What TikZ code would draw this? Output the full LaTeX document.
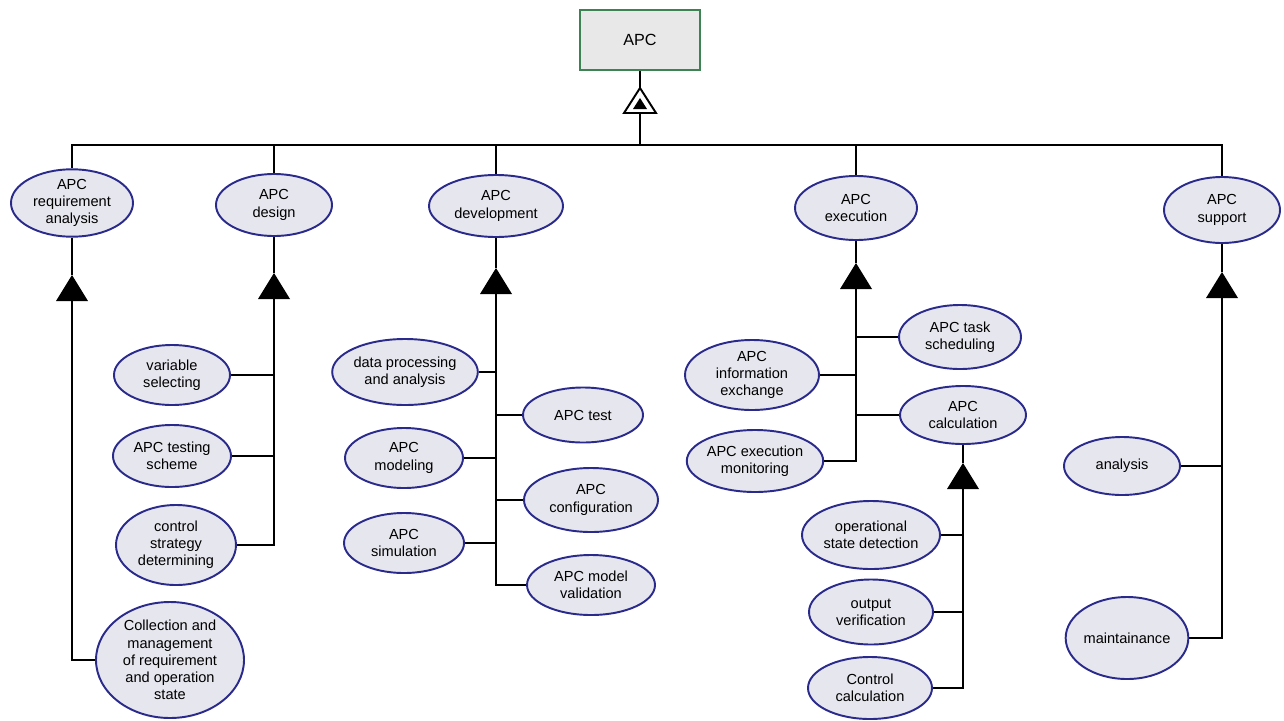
\documentclass[tikz,border=0pt]{standalone}
\usepackage{fontspec}
\setmainfont{Liberation Sans}
\usetikzlibrary{shapes.geometric}
\definecolor{elborder}{RGB}{42,42,140}
\definecolor{elfill}{RGB}{230,230,238}
\definecolor{boxborder}{RGB}{60,130,82}
\definecolor{boxfill}{RGB}{232,232,232}
\tikzset{
  el/.style={ellipse, draw=elborder, fill=elfill, line width=1.1pt, align=center,
    inner sep=0pt, font=\fontsize{8.3}{9.8}\selectfont},
  sz/.style 2 args={minimum width=#1*0.02cm, minimum height=#2*0.02cm},
  rootbox/.style={rectangle, draw=boxborder, fill=boxfill, line width=1.2pt,
    minimum width=2.4cm, minimum height=1.2cm, font=\fontsize{9.2}{11}\selectfont},
  link/.style={draw=black, line width=1.1pt},
  ftri/.pic={\fill[black] (0,0) -- (-16,26) -- (16,26) -- cycle;},
  htri/.pic={\draw[black, fill=white, line width=1.1pt, line join=miter] (0,0) -- (-16,25) -- (16,25) -- cycle;
             \fill[black] (0,10) -- (-7,21) -- (7,21) -- cycle;}
}
\begin{document}
\begin{tikzpicture}[x=0.02cm, y=-0.02cm]
\useasboundingbox (0,0) rectangle (1284,720);

% root and generalisation symbol
\node[rootbox] (apc) at (640,40) {APC};
\coordinate (rootA) at (640,88);
\coordinate (rootB) at (640,113);
\coordinate (hub) at (640,145);
\pic at (rootA) {htri};

% first level
\node[el, sz={122}{66}] (req) at (72,203) {APC\\requirement\\analysis};
\node[el, sz={116}{62}] (des) at (274,205) {APC\\design};
\node[el, sz={134}{62}] (dev) at (496,206) {APC\\development};
\node[el, sz={122}{64}] (exe) at (856,208) {APC\\execution};
\node[el, sz={116}{66}] (sup) at (1222,210) {APC\\support};

% requirement analysis parts
\node[el, sz={148}{116}, inner sep=-6pt] (coll) at (170,660) {Collection and\\management\\of requirement\\and operation\\state};

% design parts
\node[el, sz={116}{60}] (vs) at (172,375) {variable\\selecting};
\node[el, sz={118}{62}] (ats) at (172,456) {APC testing\\scheme};
\node[el, sz={120}{80}] (csd) at (176,545) {control\\strategy\\determining};

% development parts
\node[el, sz={140}{66}] (dpa) at (405,372) {data processing\\and analysis};
\node[el, sz={118}{60}] (mdl) at (404,458) {APC\\modeling};
\node[el, sz={120}{60}] (sim) at (404,543) {APC\\simulation};
\node[el, sz={120}{55}] (tst) at (583,415) {APC test};
\node[el, sz={134}{64}] (cfg) at (591,500) {APC\\configuration};
\node[el, sz={128}{60}] (val) at (591,585) {APC model\\validation};

% execution parts
\node[el, sz={122}{64}] (tsk) at (960,337) {APC task\\scheduling};
\node[el, sz={134}{70}] (inf) at (752,375) {APC\\information\\exchange};
\node[el, sz={126}{58}] (cal) at (963,415) {APC\\calculation};
\node[el, sz={134}{62}] (mon) at (755,461) {APC execution\\monitoring};

% calculation parts
\node[el, sz={138}{68}] (osd) at (871,535) {operational\\state detection};
\node[el, sz={124}{65}] (ov) at (871,612) {output\\verification};
\node[el, sz={124}{62}] (cc) at (870,688) {Control\\calculation};

% support parts
\node[el, sz={116}{58}] (ana) at (1122,466) {analysis};
\node[el, sz={110}{82}] (mnt) at (1127,638) {maintainance};

% aggregation triangles
\coordinate (reqA) at (72,275);  \coordinate (reqB) at (72,301);
\coordinate (desA) at (274,273); \coordinate (desB) at (274,299);
\coordinate (devA) at (496,268); \coordinate (devB) at (496,294);
\coordinate (exeA) at (856,263); \coordinate (exeB) at (856,289);
\coordinate (supA) at (1222,272);\coordinate (supB) at (1222,298);
\coordinate (calA) at (963,463); \coordinate (calB) at (963,489);
\foreach \t in {reqA,desA,devA,exeA,supA,calA} \pic at (\t) {ftri};

% root connectors
\draw[link] (apc) -- (rootA);
\draw[link] (rootB) -- (hub);
\foreach \n in {req,des,dev,exe,sup} \draw[link] (hub) -| (\n);

% stems from first-level nodes to their triangles
\foreach \n in {req,des,dev,exe,sup,cal} \draw[link] (\n) -- (\n A);

% requirement analysis
\draw[link] (reqB) |- (coll);

% design
\draw[link] (desB) |- (csd);
\draw[link] (vs) -- (vs -| desB);
\draw[link] (ats) -- (ats -| desB);

% development
\draw[link] (devB) |- (val);
\draw[link] (dpa) -- (dpa -| devB);
\draw[link] (mdl) -- (mdl -| devB);
\draw[link] (sim) -- (sim -| devB);
\draw[link] (tst) -- (tst -| devB);
\draw[link] (cfg) -- (cfg -| devB);

% execution
\draw[link] (exeB) |- (mon);
\draw[link] (tsk) -- (tsk -| exeB);
\draw[link] (inf) -- (inf -| exeB);
\draw[link] (cal) -- (cal -| exeB);

% calculation
\draw[link] (calB) |- (cc);
\draw[link] (osd) -- (osd -| calB);
\draw[link] (ov) -- (ov -| calB);

% support
\draw[link] (supB) |- (mnt);
\draw[link] (ana) -- (ana -| supB);
\end{tikzpicture}
\end{document}
